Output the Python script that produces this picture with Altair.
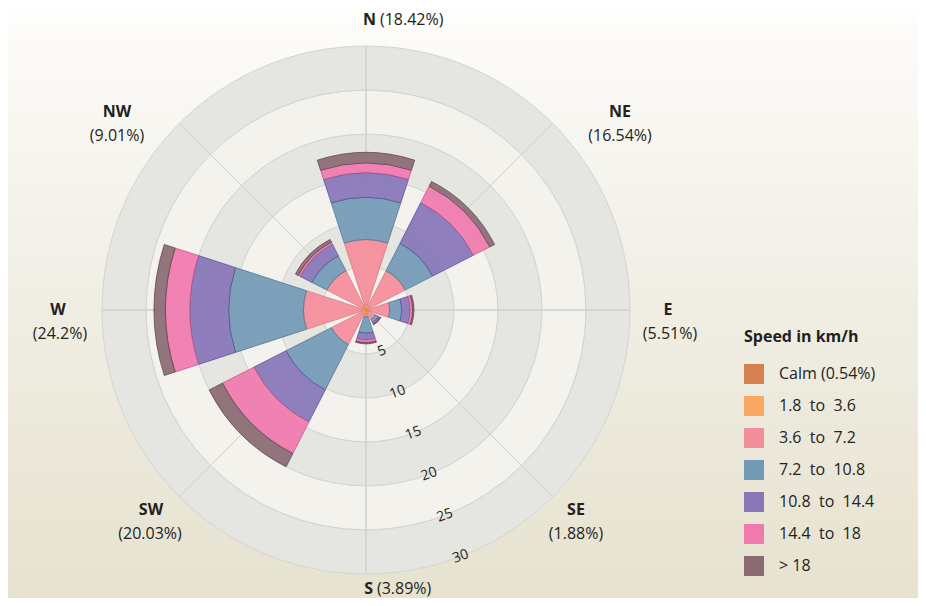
import math
import altair as alt
import pandas as pd

# ---------------- data ----------------
directions = ["N", "NE", "E", "SE", "S", "SW", "W", "NW"]
dir_angles = [0, 45, 90, 135, 180, 225, 270, 315]
dir_pct_labels = ["(18.42%)", "(16.54%)", "(5.51%)", "(1.88%)", "(3.89%)", "(20.03%)", "(24.2%)", "(9.01%)"]

speed_classes = ["Calm (0.54%)", "1.8\u00a0 to\u00a0 3.6", "3.6\u00a0 to\u00a0 7.2", "7.2\u00a0 to\u00a0 10.8",
                 "10.8\u00a0 to\u00a0 14.4", "14.4\u00a0 to\u00a0 18", "> 18"]
# percentage of time per direction and speed class
s_1_8_3_6 = [0.6, 0.5, 0.4, 0.3, 0.5, 0.5, 0.5, 0.4]
s_3_6_7_2 = [7.4, 4.5, 2.3, 0.9, 0.3, 3.9, 6.6, 4.6]
s_7_2_10_8 = [4.8, 3.5, 1.35, 0.4, 1.85, 5.8, 8.5, 1.9]
s_10_8_14_4 = [2.8, 5.2, 0.95, 0.2, 0.75, 4.1, 4.4, 1.5]
s_14_4_18 = [1.1, 2.1, 0.3, 0.05, 0.3, 4.0, 2.8, 0.25]
s_over_18 = [1.2, 0.6, 0.15, 0.03, 0.15, 1.7, 1.3, 0.35]

ring_ticks = [5, 10, 15, 20, 25, 30]

# ---------------- styling / layout ----------------
class_colors = ["#D4804F", "#FBA962", "#F48D9A", "#7399B6", "#8776B8", "#F07AAE", "#8A6A73"]
class_strokes = ["#B0602F", "#D9853D", "#D9707E", "#4E6F8E", "#5A4A95", "#C2508A", "#5A3F48"]
FONT = "Open Sans"
W, H = 910, 590
CX, CY = 358, 302
PX_PER_UNIT = 8.8
R_MAX = 30
HALF_WIDTH = 18  # degrees, half angular width of each wedge

# label pixel offsets from centre (layout only)
label_layout = {
    "N": [((10, -290), "right"), ((14, -290), "left")],
    "NE": [((254, -198), "center"), ((254, -174), "center")],
    "E": [((302, 0), "center"), ((304, 24), "center")],
    "SE": [((210, 200), "center"), ((210, 224), "center")],
    "S": [((7, 279), "right"), ((11, 279), "left")],
    "SW": [((-215, 200), "center"), ((-216, 224), "center")],
    "W": [((-308, 0), "center"), ((-306, 24), "center")],
    "NW": [((-249, -198), "center"), ((-249, -174), "center")],
}

# ---------------- tables ----------------
series = [s_1_8_3_6, s_3_6_7_2, s_7_2_10_8, s_10_8_14_4, s_14_4_18, s_over_18]
rows = []
for i, d in enumerate(directions):
    a = dir_angles[i] if dir_angles[i] != 0 else 360
    cum = 0.0
    for k, s in enumerate(series):
        v = s[i]
        rows.append(dict(dir=d, cls=speed_classes[k + 1], order=k, r0=cum, r1=cum + v,
                         t0=a - HALF_WIDTH, t1=a + HALF_WIDTH))
        cum += v
bars = pd.DataFrame(rows)

rings = pd.DataFrame(dict(r0=[t - 5 for t in ring_ticks], r1=ring_ticks,
                          band=[i % 2 for i in range(len(ring_ticks))]))
spokes = pd.DataFrame(dict(t=dir_angles, r0=[0] * 8, r1=[R_MAX] * 8))
ticks = pd.DataFrame(dict(v=ring_ticks, txt=[str(t) for t in ring_ticks]))

lab_rows = []
for i, d in enumerate(directions):
    (p1, al1), (p2, al2) = label_layout[d]
    for (dx, dy), al, txt, bold in [(p1, al1, d, True), (p2, al2, dir_pct_labels[i], False)]:
        th = math.degrees(math.atan2(dx, -dy)) % 360
        rr = math.hypot(dx, dy) / PX_PER_UNIT
        lab_rows.append(dict(txt=txt, th=th, rr=rr, bold=bold, al=al))
labels = pd.DataFrame(lab_rows)

# ---------------- scales ----------------
theta_scale = alt.Scale(type="linear", domain=[0, 360], range=[0, 2 * math.pi])
radius_scale = alt.Scale(type="linear", domain=[0, R_MAX], range=[0, R_MAX * PX_PER_UNIT], zero=True)
cx, cy = alt.value(CX), alt.value(CY)

bg = alt.Chart(pd.DataFrame({"a": [0]})).mark_rect(
    fill=alt.Gradient(gradient="linear", x1=0, x2=0, y1=0, y2=1,
                      stops=[alt.GradientStop(color="#FFFFFF", offset=0),
                             alt.GradientStop(color="#FCFBF8", offset=0.06),
                             alt.GradientStop(color="#F1EFE6", offset=0.45),
                             alt.GradientStop(color="#E6E2CF", offset=1)])
).encode(x=alt.value(-8), x2=alt.value(W + 8), y=alt.value(-8), y2=alt.value(H + 8))

ring_layer = alt.Chart(rings).mark_arc(stroke="#D5D5D0", strokeWidth=1).encode(
    theta=alt.Theta(datum=0, scale=theta_scale),
    theta2=alt.Theta2(datum=360),
    radius=alt.Radius("r1:Q", scale=radius_scale),
    radius2="r0:Q",
    fill=alt.condition(alt.datum.band == 1, alt.value("#E5E5E1"), alt.value("#F3F2EC")),
    x=cx, y=cy,
)

spoke_layer = alt.Chart(spokes).mark_arc(stroke="#CFCFCB", strokeWidth=1, fillOpacity=0).encode(
    theta=alt.Theta("t:Q", scale=theta_scale),
    theta2="t:Q",
    radius=alt.Radius("r1:Q", scale=radius_scale),
    radius2="r0:Q",
    x=cx, y=cy,
)

bar_layer = alt.Chart(bars).mark_arc(strokeWidth=0.9, fillOpacity=0.92, strokeOpacity=0.8).encode(
    theta=alt.Theta("t0:Q", scale=theta_scale),
    theta2="t1:Q",
    radius=alt.Radius("r1:Q", scale=radius_scale),
    radius2="r0:Q",
    color=alt.Color("cls:N", scale=alt.Scale(domain=speed_classes, range=class_colors),
                    legend=alt.Legend(title="Speed in km/h", orient="none", legendX=736, legendY=321,
                                      symbolType="square", symbolSize=400, symbolStrokeWidth=0,
                                      symbolOpacity=1, labelFontSize=16, titleFontSize=16,
                                      titleFontWeight="bold", labelFont=FONT, titleFont=FONT,
                                      labelColor="#231F20", titleColor="#231F20",
                                      rowPadding=12, labelOffset=15, titlePadding=19)),
    stroke=alt.Stroke("cls:N", scale=alt.Scale(domain=speed_classes, range=class_strokes), legend=None),
    order=alt.Order("order:Q"),
    x=cx, y=cy,
)

tick_layer = alt.Chart(ticks).mark_text(font=FONT, fontSize=14, color="#231F20", angle=340,
                                        align="center", baseline="middle").encode(
    theta=alt.Theta(datum=159, scale=theta_scale),
    radius=alt.Radius("v:Q", scale=radius_scale),
    text="txt:N",
    x=cx, y=cy,
)

def label_layer(bold, al):
    df = labels[(labels.bold == bold) & (labels.al == al)]
    return alt.Chart(df).mark_text(font=FONT, fontSize=16, fontWeight="bold" if bold else "normal",
                                   color="#231F20", align=al, baseline="middle").encode(
        theta=alt.Theta("th:Q", scale=theta_scale),
        radius=alt.Radius("rr:Q", scale=radius_scale),
        text="txt:N",
        x=cx, y=cy,
    )

layers = [bg, ring_layer, spoke_layer, bar_layer, tick_layer]
for b in [True, False]:
    for al in ["center", "left", "right"]:
        if len(labels[(labels.bold == b) & (labels.al == al)]):
            layers.append(label_layer(b, al))

chart = alt.layer(*layers).properties(
    width=W, height=H, autosize=alt.AutoSizeParams(type="none"), padding=0
).configure_view(stroke=None).configure(background="#FFFFFF")

chart.save("out.html", embed_options={"renderer": "svg", "actions": False})
